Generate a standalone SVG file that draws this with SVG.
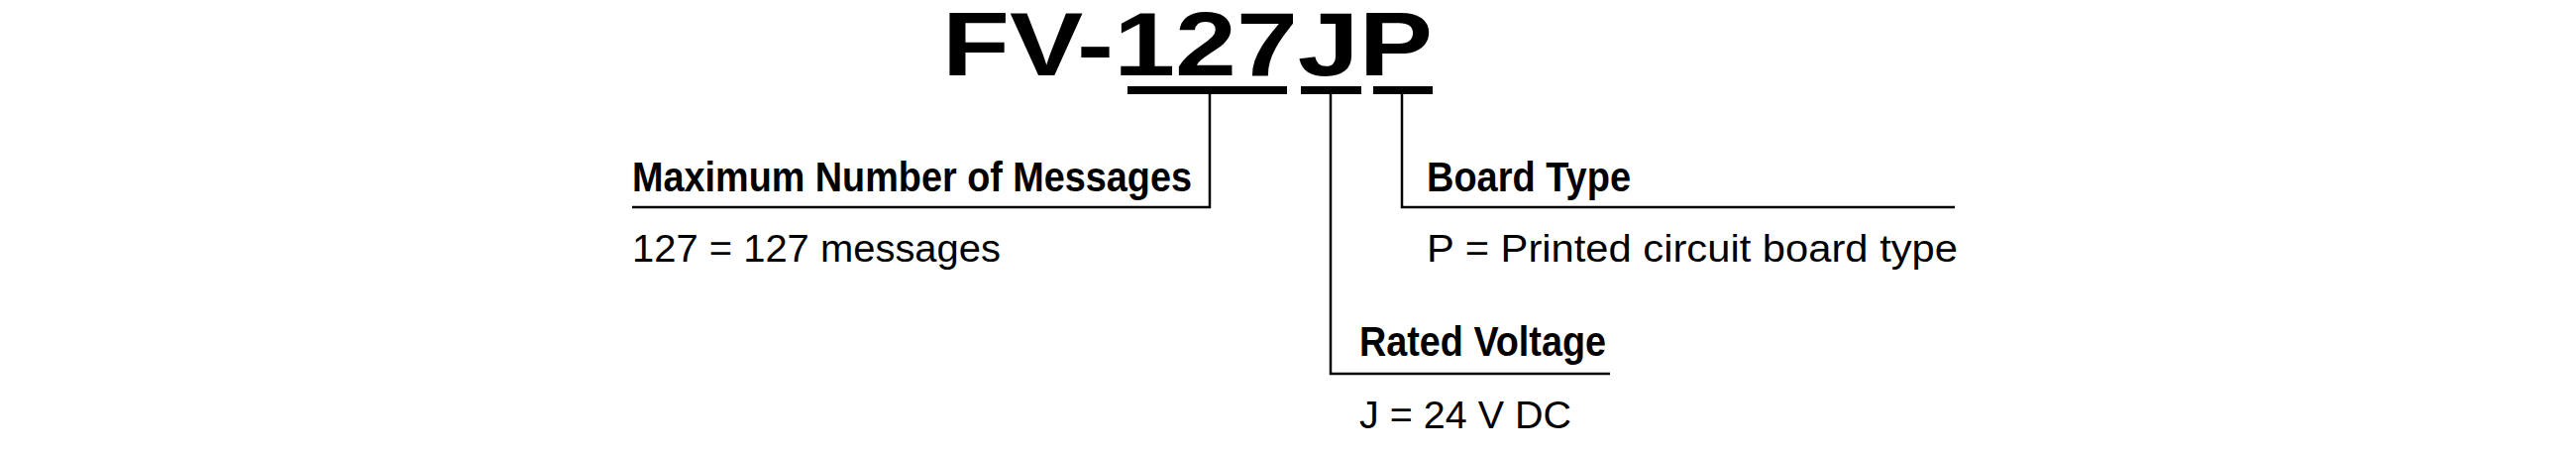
<svg xmlns="http://www.w3.org/2000/svg" width="2600" height="460" viewBox="0 0 2600 460">
<style>
.t{font-family:"Liberation Sans",Arial,sans-serif;fill:#000}
.h{font-weight:bold;font-size:42px}
.r{font-size:38px}
.ln{stroke:#000;stroke-width:2.5;fill:none}
</style>
<rect width="2600" height="460" fill="#fff"/>
<g id="title"><text class="t" x="951" y="76" font-size="90" font-weight="bold" textLength="495" lengthAdjust="spacingAndGlyphs">FV-127JP</text>
<rect x="1138" y="87" width="161" height="8"/><rect x="1313" y="87" width="61" height="8"/><rect x="1386" y="87" width="60" height="8"/></g>
<g id="connectors">
<polyline class="ln" points="1221,95 1221,209 638,209"/>
<polyline class="ln" points="1343,95 1343,377 1625,377"/>
<polyline class="ln" points="1415,95 1415,209 1973,209"/>
</g>
<g id="messages"><text class="t h" x="638" y="193" textLength="565" lengthAdjust="spacingAndGlyphs">Maximum Number of Messages</text>
<text class="t r" x="638" y="264" textLength="372" lengthAdjust="spacingAndGlyphs">127 = 127 messages</text></g>
<g id="board"><text class="t h" x="1440" y="193" textLength="206" lengthAdjust="spacingAndGlyphs">Board Type</text>
<text class="t r" x="1440" y="264" textLength="536" lengthAdjust="spacingAndGlyphs">P = Printed circuit board type</text></g>
<g id="voltage"><text class="t h" x="1372" y="359" textLength="249" lengthAdjust="spacingAndGlyphs">Rated Voltage</text>
<text class="t r" x="1372" y="432" textLength="214" lengthAdjust="spacingAndGlyphs">J = 24 V DC</text></g>
</svg>
